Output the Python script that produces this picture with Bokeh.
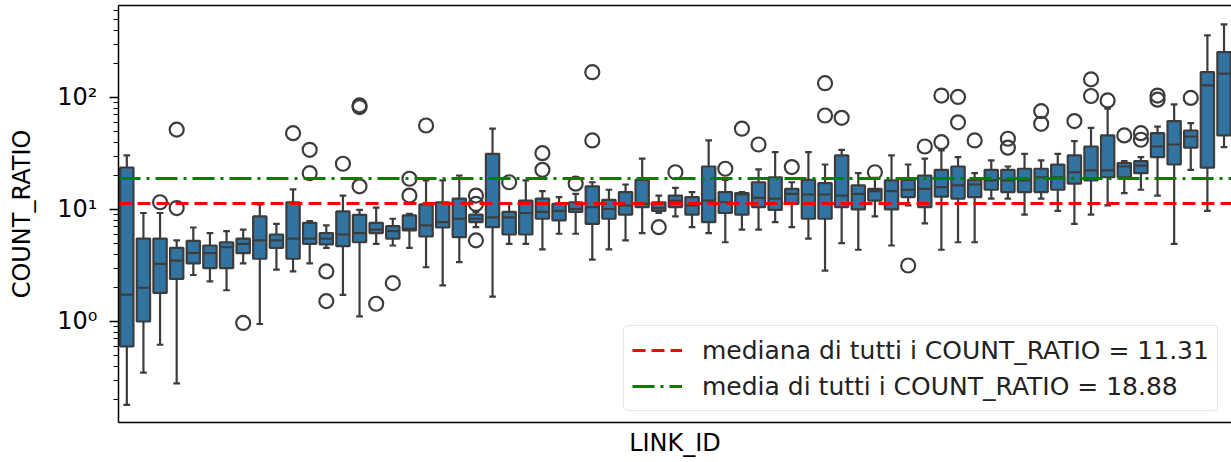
import numpy as np
from bokeh.plotting import figure
from bokeh.models import FixedTicker, LinearAxis, Range1d, ColumnDataSource
from bokeh.embed import file_html
from bokeh.resources import INLINE

# ---------------- data ----------------
link_ids = list(range(67))

whisker_low = [0.18, 0.35, 0.62, 0.28, 2.6, 2.28, 1.9, 3.3, 0.95, 2.9,
               2.8, 3.3, 4.55, 1.73, 1.11, 4.94, 4.77, 4.55, 3.05, 2.1,
               3.39, 6.95, 1.67, 4.94, 4.94, 4.4, 6.07, 6.07, 3.56, 4.4,
               5.3, 6.15, 9.3, 8.66, 6.95, 6.15, 5.1, 6.6, 6.6, 7.7,
               6.95, 5.5, 2.85, 5.0, 4.37, 8.66, 4.77, 10.9, 7.5, 4.37,
               5.1, 5.1, 12.5, 12.5, 9.0, 12.5, 9.7, 7.45, 9.0, 10.9,
               14.0, 15.0, 13.3, 4.94, 22.6, 9.7, 36.0]
q1 = [0.60, 1.0, 1.8, 2.4, 3.3, 3.0, 3.0, 4.07, 3.63, 4.55,
      3.63, 4.94, 4.87, 4.7, 5.1, 6.15, 5.5, 6.5, 5.74, 6.9,
      5.66, 7.7, 6.95, 5.98, 5.98, 8.26, 8.0, 9.5, 7.45, 8.26,
      9.0, 10.5, 9.7, 10.5, 9.0, 7.7, 9.3, 9.0, 10.5, 9.9,
      11.2, 8.26, 8.26, 10.5, 10.0, 12.0, 10.0, 12.9, 10.5, 13.0,
      12.5, 12.9, 15.0, 14.3, 14.3, 14.3, 15.0, 17.0, 18.2, 19.4,
      19.4, 21.1, 29.3, 25.2, 35.6, 23.6, 45.8]
median = [1.74, 2.0, 3.27, 3.5, 4.1, 4.07, 4.6, 4.94, 5.3, 5.3,
          5.5, 5.5, 5.5, 5.98, 6.15, 6.6, 6.4, 6.7, 7.2, 7.7,
          8.26, 8.26, 8.5, 8.5, 9.3, 9.5, 9.7, 10.1, 10.5, 10.1,
          10.9, 11.2, 10.3, 12.0, 10.9, 12.0, 11.6, 13.6, 12.7, 12.5,
          13.8, 13.6, 13.6, 13.3, 13.8, 14.6, 14.6, 15.0, 15.3, 15.8,
          16.4, 16.7, 18.2, 18.2, 18.2, 19.4, 19.4, 21.5, 22.3, 22.3,
          24.2, 24.6, 36.5, 38.0, 44.8, 128.0, 163.0]
q3 = [23.7, 5.5, 5.5, 4.55, 5.25, 4.77, 5.1, 5.5, 8.66, 5.98,
      11.6, 7.6, 6.15, 9.6, 8.96, 7.6, 7.1, 8.84, 11.1, 11.6,
      12.5, 9.0, 31.4, 9.5, 12.0, 12.5, 11.2, 11.6, 16.1, 12.2,
      14.3, 18.4, 11.6, 13.3, 12.9, 24.2, 14.3, 14.0, 17.5, 19.4,
      15.3, 18.4, 17.2, 30.4, 16.4, 15.3, 18.2, 18.4, 20.1, 22.6,
      24.2, 18.4, 22.6, 22.6, 23.1, 23.1, 25.1, 30.4, 36.5, 45.8,
      26.0, 27.0, 48.0, 61.5, 50.7, 168.0, 254.0]
whisker_high = [30.4, 9.3, 9.3, 5.3, 6.9, 6.15, 6.4, 6.6, 11.1, 7.45,
                15.1, 7.87, 7.2, 13.3, 9.9, 10.4, 8.26, 9.15, 18.2, 18.2,
                20.1, 9.5, 52.6, 11.2, 18.2, 14.6, 12.9, 13.8, 17.5, 15.0,
                16.7, 28.4, 13.3, 15.6, 14.3, 41.3, 18.4, 14.3, 22.8, 32.5,
                17.5, 32.5, 25.2, 34.1, 21.1, 19.2, 30.4, 25.2, 28.4, 33.6,
                29.3, 21.1, 27.4, 24.2, 31.4, 27.4, 31.4, 40.7, 53.6, 79.3,
                27.0, 29.3, 55.0, 86.6, 59.0, 358.0, 449.0]

outlier_box = [2, 3, 3, 7, 10, 11, 11, 12, 12, 13, 14, 14, 14, 15, 16, 17, 17, 18,
               21, 21, 21, 23, 25, 25, 27, 28, 28, 32, 33, 36, 37, 38, 40, 42, 42,
               43, 45, 47, 48, 49, 49, 50, 50, 51, 53, 53, 55, 55, 57, 58, 58, 59,
               60, 61, 61, 62, 62, 64]
outlier_value = [11.6, 51.6, 10.3, 0.97, 48.0, 34.1, 21.1, 2.8, 1.52, 25.6, 82.0, 85.0, 16.1,
                 1.44, 2.2, 18.8, 13.3, 56.2,
                 13.3, 11.2, 5.3, 17.5, 31.8, 22.6, 17.0, 168.0, 41.3, 6.95, 21.5, 23.1,
                 52.6, 38.0, 23.9, 134.0, 69.0,
                 65.8, 21.5, 3.16, 36.5, 104.0, 39.9, 101.0, 60.0, 41.3, 42.8, 35.6, 75.5,
                 58.2, 61.5, 145.0, 103.0, 94.0,
                 45.8, 48.0, 41.9, 104.0, 95.5, 99.0]

overall_median = 11.31
overall_mean = 18.88

y_tick_values = [1, 10, 100]
y_tick_labels = ["10\u2070", "10\u00b9", "10\u00b2"]

# ---------------- styling ----------------
BOX_BLUE = "#3274a1"
EDGE = "#3c3c3c"
FONT = "DejaVu Sans"
BOX_W = 0.8
CAP_W = 0.4

p = figure(width=1231, height=462, y_axis_type="log",
           x_range=Range1d(-0.5, 66.45), y_range=Range1d(0.1254, 662),
           output_backend="svg", toolbar_location=None,
           min_border_left=118, min_border_right=0, min_border_top=5, min_border_bottom=40)
p.outline_line_color = None
p.xgrid.visible = False
p.ygrid.visible = False
p.background_fill_color = "white"
p.border_fill_color = "white"

x = np.array(link_ids, dtype=float)
src = ColumnDataSource(dict(
    x=x, lo=whisker_low, q1=q1, med=median, q3=q3, hi=whisker_high,
    cl=x - CAP_W / 2, cr=x + CAP_W / 2, bl=x - BOX_W / 2, br=x + BOX_W / 2))

LW = 2.2
p.segment("x", "q3", "x", "hi", source=src, line_color=EDGE, line_width=LW)
p.segment("x", "lo", "x", "q1", source=src, line_color=EDGE, line_width=LW)
p.segment("cl", "hi", "cr", "hi", source=src, line_color=EDGE, line_width=LW)
p.segment("cl", "lo", "cr", "lo", source=src, line_color=EDGE, line_width=LW)
p.vbar(x="x", width=BOX_W, top="q3", bottom="q1", source=src,
       fill_color=BOX_BLUE, line_color=EDGE, line_width=LW)
p.segment("bl", "med", "br", "med", source=src, line_color=EDGE, line_width=LW)

p.scatter(x=outlier_box, y=outlier_value, marker="circle", size=14,
          fill_color=None, line_color=EDGE, line_width=2.2)

p.hspan(y=[overall_median], line_color="red", line_width=3.2, line_dash="13 6",
        legend_label=f"mediana di tutti i COUNT_RATIO = {overall_median:.2f}")
p.hspan(y=[overall_mean], line_color="#008000", line_width=3.2, line_dash="22 6 3 6",
        legend_label=f"media di tutti i COUNT_RATIO = {overall_mean:.2f}")

# y axis
minor = [m * 10.0 ** e for e in (-1, 0, 1, 2) for m in range(2, 10)]
p.yaxis.ticker = FixedTicker(ticks=y_tick_values, minor_ticks=minor)
p.yaxis.major_label_overrides = {v: l for v, l in zip(y_tick_values, y_tick_labels)}
p.yaxis.axis_label = "COUNT_RATIO"
p.yaxis.axis_label_text_font = FONT
p.yaxis.axis_label_text_font_size = "24px"
p.yaxis.axis_label_text_font_style = "normal"
p.yaxis.axis_label_text_color = "black"
p.yaxis.axis_label_standoff = 18
p.yaxis.major_label_text_font = FONT
p.yaxis.major_label_text_font_size = "24px"
p.yaxis.major_label_text_color = "black"
p.yaxis.major_label_standoff = 12
p.yaxis.major_tick_out = 9
p.yaxis.major_tick_in = 0
p.yaxis.minor_tick_out = 5
p.yaxis.minor_tick_in = 0
p.yaxis.major_tick_line_width = 1.5
p.yaxis.minor_tick_line_width = 1.2
p.yaxis.axis_line_width = 1.5
p.yaxis.axis_line_color = "black"

# x axis
p.xaxis.ticker = FixedTicker(ticks=[])
p.xaxis.major_tick_line_color = None
p.xaxis.minor_tick_line_color = None
p.xaxis.major_label_text_font_size = "0px"
p.xaxis.axis_label = "LINK_ID"
p.xaxis.axis_label_text_font = FONT
p.xaxis.axis_label_text_font_size = "24px"
p.xaxis.axis_label_text_font_style = "normal"
p.xaxis.axis_label_text_color = "black"
p.xaxis.axis_label_standoff = 6
p.xaxis.axis_line_width = 1.5
p.xaxis.axis_line_color = "black"

top = LinearAxis(ticker=FixedTicker(ticks=[]), axis_line_color="black", axis_line_width=1.5,
                 major_tick_line_color=None, minor_tick_line_color=None,
                 major_label_text_font_size="0px")
p.add_layout(top, "above")

# legend
lg = p.legend[0]
lg.location = (505, 11)
lg.label_text_font = FONT
lg.label_text_font_size = "25px"
lg.label_text_color = "#222222"
lg.glyph_width = 50
lg.glyph_height = 32
lg.label_height = 32
lg.spacing = 4
lg.padding = 8
lg.margin = 0
lg.label_standoff = 20
lg.border_line_color = "#cccccc"
lg.border_line_width = 1.5
lg.border_radius = 5
lg.background_fill_alpha = 0.85

open("out.html", "w").write(file_html(p, INLINE))
